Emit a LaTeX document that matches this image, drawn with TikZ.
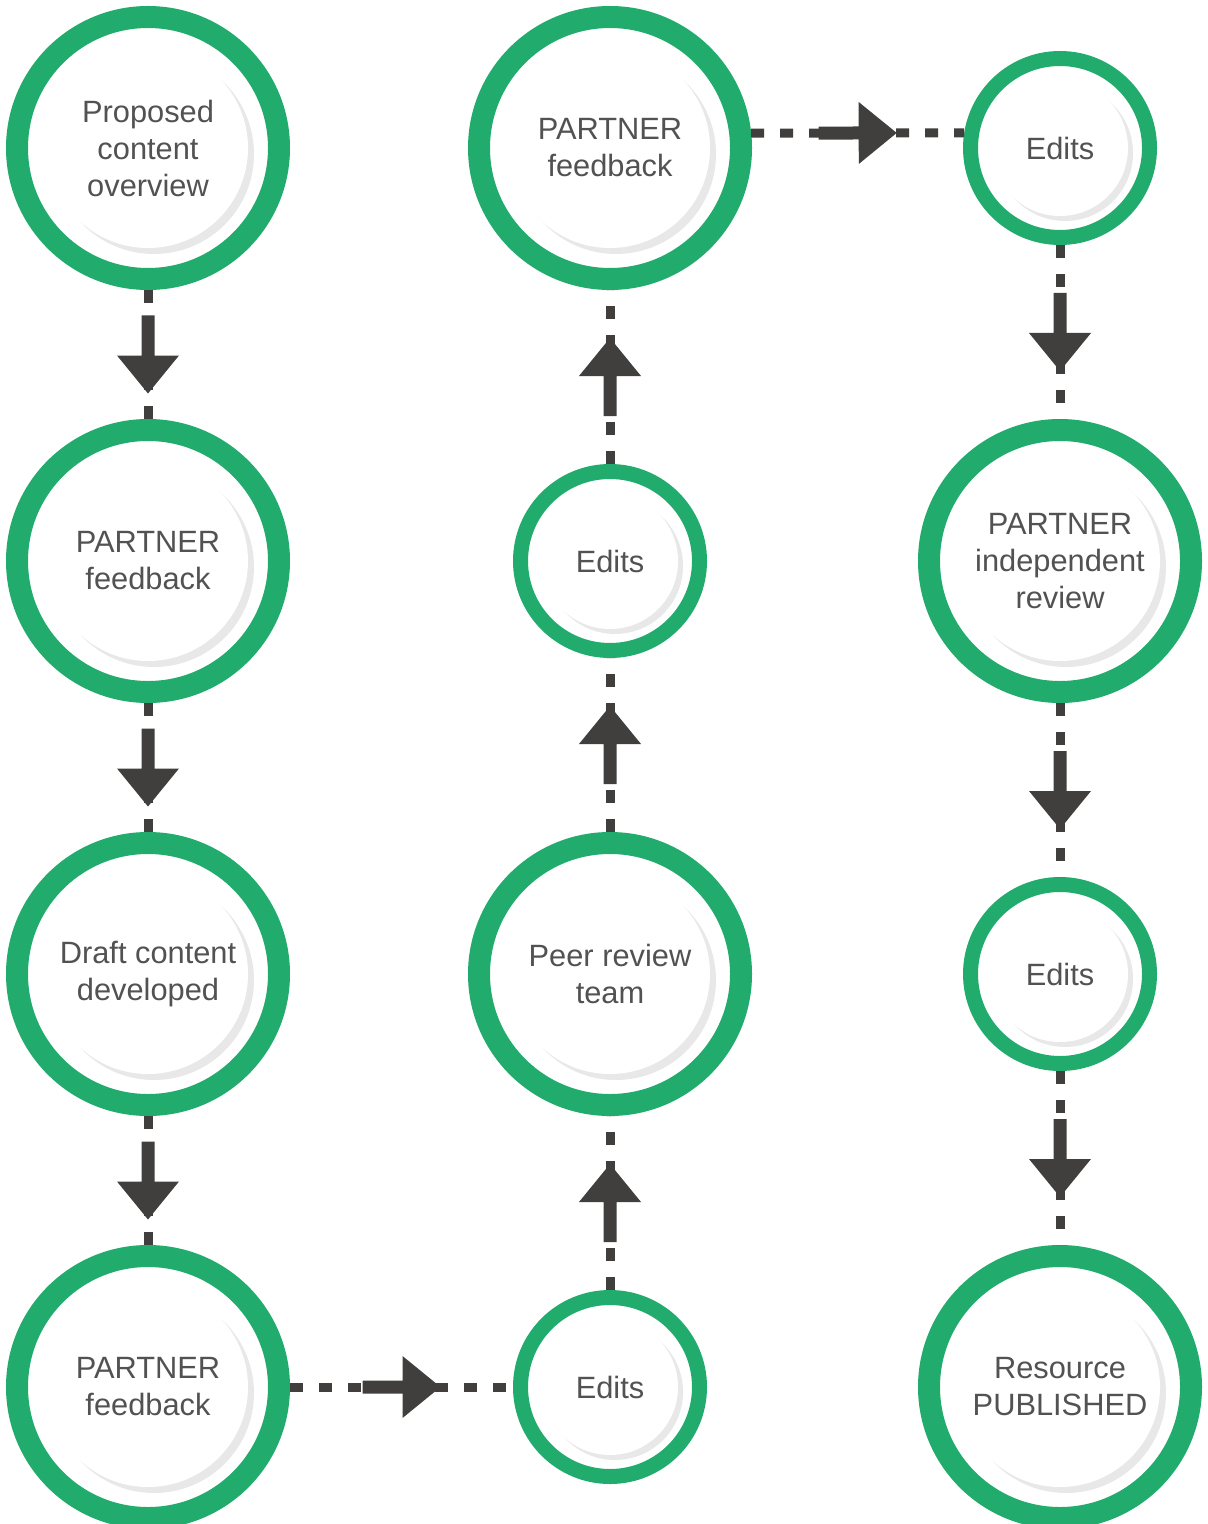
\documentclass[tikz,border=0pt]{standalone}
\usepackage{fontspec}
\setmainfont{Liberation Sans}
\usepackage{tikz}
\usetikzlibrary{positioning,shadows,fadings,decorations.markings}
\definecolor{ringgreen}{RGB}{33,172,110}
\definecolor{textgray}{RGB}{82,82,82}
\definecolor{arrowgray}{RGB}{64,63,62}
\newcommand{\stepfont}{\fontsize{15.4pt}{18.5pt}\selectfont}
\tikzset{
    bigstep/.style={
        circle,
        draw=ringgreen,
        line width=11pt,
        minimum size=131pt,
        inner sep=0pt,
        fill=white,
        text=textgray,
        align=center,
        font=\stepfont,
        path picture={\fill[white, circular drop shadow={shadow xshift=3pt, shadow yshift=-3pt, opacity=.18, shadow scale=1}] (path picture bounding box.center) circle (50pt);}
    },
    smallstep/.style={
        circle,
        draw=ringgreen,
        line width=7.5pt,
        minimum size=89.5pt,
        inner sep=0pt,
        fill=white,
        text=textgray,
        align=center,
        font=\stepfont,
        path picture={\fill[white, circular drop shadow={shadow xshift=2.5pt, shadow yshift=-2.5pt, opacity=.18, shadow scale=1}] (path picture bounding box.center) circle (34pt);}
    },
    flow/.style={
        draw=arrowgray,
        line width=4.5pt,
        dash pattern=on 6.5pt off 8pt,
        postaction={decorate},
        decoration={markings, mark=at position 0.5 with {
            \fill[arrowgray] (-19.5pt,-3.25pt) -- (0.5pt,-3.25pt) -- (0.5pt,-15.5pt) -- (19.5pt,0pt)
                -- (0.5pt,15.5pt) -- (0.5pt,3.25pt) -- (-19.5pt,3.25pt) -- cycle;}}
    }
}
\begin{document}
\begin{tikzpicture}[node distance=206.5pt and 231pt, on grid]
\fill[white] (0pt,0pt) rectangle (604pt,-762pt);
\useasboundingbox (0pt,0pt) rectangle (604pt,-762pt);

% first column
\node[bigstep] (proposal) at (74pt,-74pt) {Proposed\\content\\overview};
\node[bigstep, below=of proposal] (feedback-1) {PARTNER\\feedback};
\node[bigstep, below=of feedback-1] (draft) {Draft content\\developed};
\node[bigstep, below=of draft] (feedback-2) {PARTNER\\feedback};

% second column
\node[smallstep, right=of feedback-2] (edits-1) {Edits};
\node[bigstep, right=of draft] (peer) {Peer review\\team};
\node[smallstep, right=of feedback-1] (edits-2) {Edits};
\node[bigstep, right=of proposal] (feedback-3) {PARTNER\\feedback};

% third column
\node[smallstep, right=225pt of feedback-3] (edits-3) {Edits};
\node[bigstep, right=225pt of edits-2] (independent) {PARTNER\\independent\\review};
\node[smallstep, right=225pt of peer] (edits-4) {Edits};
\node[bigstep, right=225pt of edits-1] (published) {Resource\\PUBLISHED};

\draw[flow] (proposal) -- (feedback-1);
\draw[flow] (feedback-1) -- (draft);
\draw[flow] (draft) -- (feedback-2);
\draw[flow] (feedback-2) -- (edits-1);
\draw[flow] (edits-1) -- (peer);
\draw[flow] (peer) -- (edits-2);
\draw[flow] (edits-2) -- (feedback-3);
\draw[flow] (feedback-3.6) -- (edits-3.171);
\draw[flow] (edits-3) -- (independent);
\draw[flow] (independent) -- (edits-4);
\draw[flow] (edits-4) -- (published);
\end{tikzpicture}
\end{document}
